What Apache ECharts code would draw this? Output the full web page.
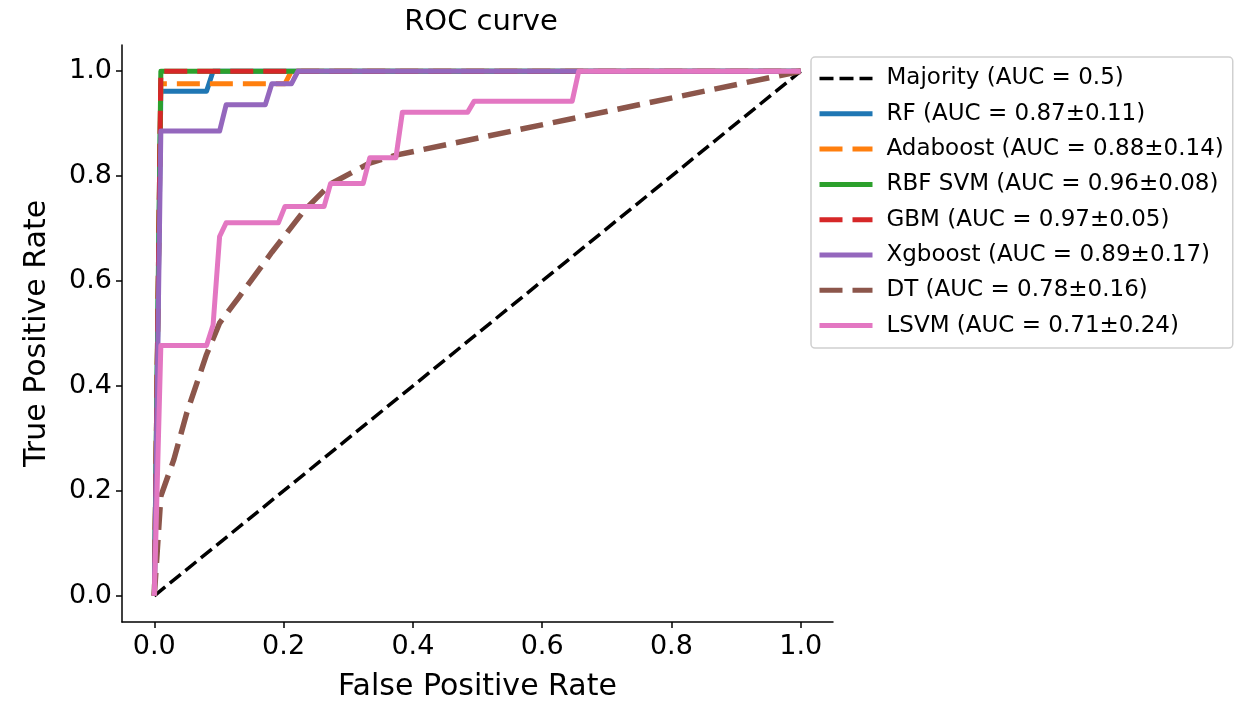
<!DOCTYPE html>
<html>
<head>
<meta charset="utf-8">
<script src="https://cdn.jsdelivr.net/npm/echarts@6/dist/echarts.min.js"></script>
<style>
  html, body { margin: 0; padding: 0; background: #fff; }
  #chart { width: 1250px; height: 701px; }
</style>
</head>
<body>
<div id="chart"></div>
<script>
// ROC curves, mean fpr / tpr
const tickValues = [0, 0.2, 0.4, 0.6, 0.8, 1.0];

const majorityFpr = [0, 1];
const majorityTpr = [0, 1];

const rfFpr = [0, 0.0101, 0.0808, 0.0909, 1];
const rfTpr = [0, 0.962, 0.962, 1, 1];

const adaFpr = [0, 0.0101, 0.202, 0.2121, 1];
const adaTpr = [0, 0.976, 0.976, 1, 1];

const rbfFpr = [0, 0.0101, 1];
const rbfTpr = [0, 1, 1];

const gbmFpr = [0, 0.0101, 1];
const gbmTpr = [0, 1, 1];

const xgbFpr = [0, 0.0101, 0.101, 0.1111, 0.1717, 0.1818, 0.2121, 0.2222, 1];
const xgbTpr = [0, 0.886, 0.886, 0.936, 0.936, 0.976, 0.976, 1, 1];

const dtFpr = [0, 0.0101, 0.0303, 0.0505, 0.0808, 0.101, 0.1313, 0.1818, 0.2323, 0.2727, 0.3333, 0.3737, 1];
const dtTpr = [0, 0.19, 0.26, 0.35, 0.46, 0.52, 0.57, 0.655, 0.735, 0.785, 0.825, 0.84, 1];

const lsvmFpr = [0, 0.0101, 0.0808, 0.0909, 0.101, 0.1111, 0.1919, 0.202, 0.2626, 0.2727, 0.3232, 0.3333, 0.3737, 0.3838, 0.4848, 0.4949, 0.6465, 0.6566, 1];
const lsvmTpr = [0, 0.477, 0.477, 0.516, 0.685, 0.711, 0.711, 0.742, 0.742, 0.786, 0.786, 0.835, 0.835, 0.922, 0.922, 0.943, 0.943, 1, 1];

const names = ['Majority (AUC = 0.5)', 'RF (AUC = 0.87±0.11)', 'Adaboost (AUC = 0.88±0.14)',
  'RBF SVM (AUC = 0.96±0.08)', 'GBM (AUC = 0.97±0.05)', 'Xgboost (AUC = 0.89±0.17)',
  'DT (AUC = 0.78±0.16)', 'LSVM (AUC = 0.71±0.24)'];
const colors = ['#000000', '#1f77b4', '#ff7f0e', '#2ca02c', '#d62728', '#9467bd', '#8c564b', '#e377c2'];
const dashes = [[14, 6], null, [23, 10], null, [23, 10], null, [23, 10], null];
const widths = [3.5, 5, 5, 5, 5, 5, 5.5, 5];

function pairs(xs, ys) {
  return xs.map((x, i) => [x, ys[i]]);
}

function curve(i, xs, ys) {
  return {
    name: names[i],
    type: 'line',
    data: pairs(xs, ys),
    showSymbol: false,
    symbol: 'none',
    silent: true,
    animation: false,
    lineStyle: {
      color: colors[i],
      width: widths[i],
      type: dashes[i] ? dashes[i] : 'solid',
      cap: 'butt',
      join: 'round'
    },
    itemStyle: { color: colors[i] }
  };
}

const font = 'DejaVu Sans';
const chart = echarts.init(document.getElementById('chart'), null, { renderer: 'canvas' });

chart.setOption({
  backgroundColor: '#ffffff',
  animation: false,
  title: {
    text: 'ROC curve',
    left: 476,
    top: 3,
    textAlign: 'center',
    textStyle: { fontFamily: font, fontSize: 29, fontWeight: 'normal', color: '#000' }
  },
  grid: {
    left: 122,
    right: 417,
    top: 45,
    bottom: 79,
    containLabel: false,
    outerBoundsMode: 'none'
  },
  legend: {
    orient: 'vertical',
    left: 811,
    top: 57,
    padding: [10, 9, 11, 6],
    itemWidth: 53,
    itemHeight: 24,
    itemGap: 12.3,
    borderColor: '#d0d0d0',
    borderWidth: 1.5,
    borderRadius: 4,
    backgroundColor: '#fff',
    itemStyle: { color: 'rgba(0,0,0,0)', borderColor: 'rgba(0,0,0,0)', borderWidth: 0 },
    textStyle: { fontFamily: font, fontSize: 23, color: '#000', padding: [0, 0, 0, 9] },
    data: names.map((n, i) => ({
      name: n,
      lineStyle: {
        color: colors[i],
        width: i === 0 ? 3.5 : 5,
        type: dashes[i] ? dashes[i] : 'solid',
        cap: 'butt'
      }
    }))
  },
  xAxis: {
    type: 'value',
    min: -0.05,
    max: 1.05,
    name: 'False Positive Rate',
    nameLocation: 'middle',
    nameGap: 50,
    nameTextStyle: { fontFamily: font, fontSize: 30, color: '#000' },
    splitLine: { show: false },
    axisLine: { onZero: false, lineStyle: { color: '#000', width: 1.5 } },
    axisTick: { customValues: tickValues, length: 6, lineStyle: { color: '#000', width: 1.5 } },
    axisLabel: {
      customValues: tickValues,
      margin: 11,
      fontFamily: font, fontSize: 27, color: '#000',
      formatter: v => v.toFixed(1)
    }
  },
  yAxis: {
    type: 'value',
    min: -0.05,
    max: 1.05,
    name: 'True Positive Rate',
    nameLocation: 'middle',
    nameGap: 70,
    nameTextStyle: { fontFamily: font, fontSize: 30, color: '#000' },
    splitLine: { show: false },
    axisLine: { show: true, onZero: false, lineStyle: { color: '#000', width: 1.5 } },
    axisTick: { show: true, customValues: tickValues, length: 6, lineStyle: { color: '#000', width: 1.5 } },
    axisLabel: {
      customValues: tickValues,
      margin: 10,
      fontFamily: font, fontSize: 27, color: '#000',
      formatter: v => v.toFixed(1)
    }
  },
  series: [
    curve(0, majorityFpr, majorityTpr),
    curve(1, rfFpr, rfTpr),
    curve(2, adaFpr, adaTpr),
    curve(3, rbfFpr, rbfTpr),
    curve(4, gbmFpr, gbmTpr),
    curve(5, xgbFpr, xgbTpr),
    curve(6, dtFpr, dtTpr),
    curve(7, lsvmFpr, lsvmTpr)
  ]
});
</script>
</body>
</html>
